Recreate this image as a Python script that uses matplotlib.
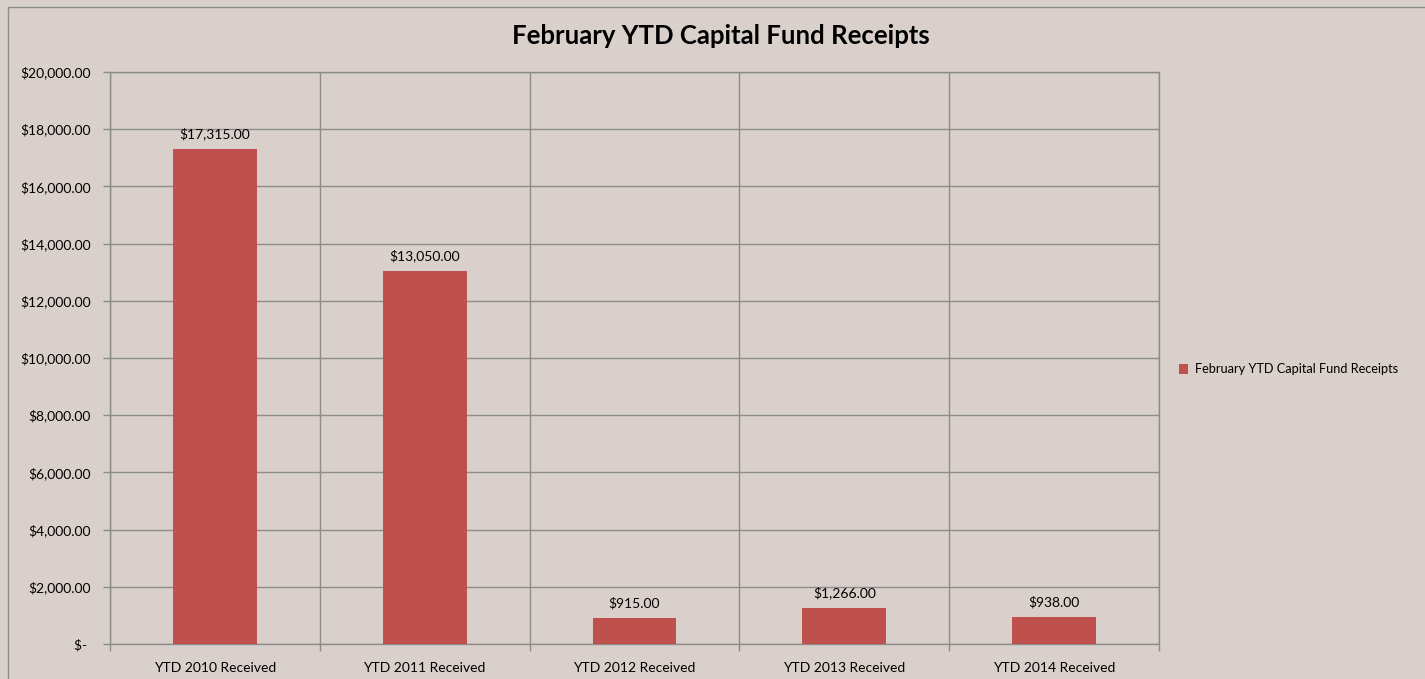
import matplotlib
matplotlib.use("Agg")
import matplotlib.pyplot as plt
from matplotlib.patches import Rectangle
from matplotlib.ticker import FuncFormatter, MultipleLocator, FixedLocator

categories = ["YTD 2010 Received", "YTD 2011 Received", "YTD 2012 Received",
              "YTD 2013 Received", "YTD 2014 Received"]
values = [17315.00, 13050.00, 915.00, 1266.00, 938.00]
series_name = "February YTD Capital Fund Receipts"
title = "February YTD Capital Fund Receipts"

plt.rcParams['font.family'] = ['Lato', 'DejaVu Sans']

bg = "#D9D0CB"
bar_color = "#C0504D"
grid_color = "#8C8C8C"

fig = plt.figure(figsize=(14.25, 6.79), dpi=100, facecolor=bg)
fig.patches.append(Rectangle((8/1425, -0.01), 1.1, 1 - 7/679 + 0.01, transform=fig.transFigure,
                             fill=False, edgecolor="#8C8C8C", linewidth=1.0))
ax = fig.add_axes([110/1425, 1 - 644/679, (1159 - 110)/1425, (644 - 72)/679])
ax.set_facecolor(bg)

x = list(range(len(categories)))
bars = ax.bar(x, values, width=0.4, color=bar_color, label=series_name, zorder=3)

ax.set_xlim(-0.5, len(categories) - 0.5)
ax.set_ylim(0, 20000)
ax.yaxis.set_major_locator(MultipleLocator(2000))

def fmt(v, pos):
    if v == 0:
        return "$- "
    return "${:,.2f}".format(v)
ax.yaxis.set_major_formatter(FuncFormatter(fmt))

ax.set_xticks(x)
ax.set_xticklabels(categories)
ax.xaxis.set_minor_locator(FixedLocator([i - 0.5 for i in range(len(categories) + 1)]))
ax.tick_params(axis='x', which='major', length=0, pad=13, labelsize=10)
ax.tick_params(axis='x', which='minor', length=5, color=grid_color, width=1)
ax.tick_params(axis='y', length=5, color=grid_color, width=1, labelsize=10, pad=9)

ax.grid(True, axis='y', color=grid_color, linewidth=1, zorder=0)
ax.grid(True, axis='x', which='minor', color=grid_color, linewidth=1, zorder=0)
for s in ax.spines.values():
    s.set_color(grid_color)
    s.set_linewidth(1)

for b, v in zip(bars, values):
    ax.annotate("${:,.2f}".format(v), (b.get_x() + b.get_width() / 2, v),
                xytext=(0, 6), textcoords="offset points", ha="center", va="bottom",
                fontsize=10)

fig.text(721/1425, 1 - 36/679, title, ha="center", va="center", fontsize=18.5, fontweight="bold")

leg = ax.legend(loc="center left", bbox_to_anchor=(1.008, 0.48), frameon=False,
                fontsize=9.2, handlelength=0.75, handleheight=0.75, handletextpad=0.5)

fig.savefig("out.png", dpi=100, facecolor=bg)
